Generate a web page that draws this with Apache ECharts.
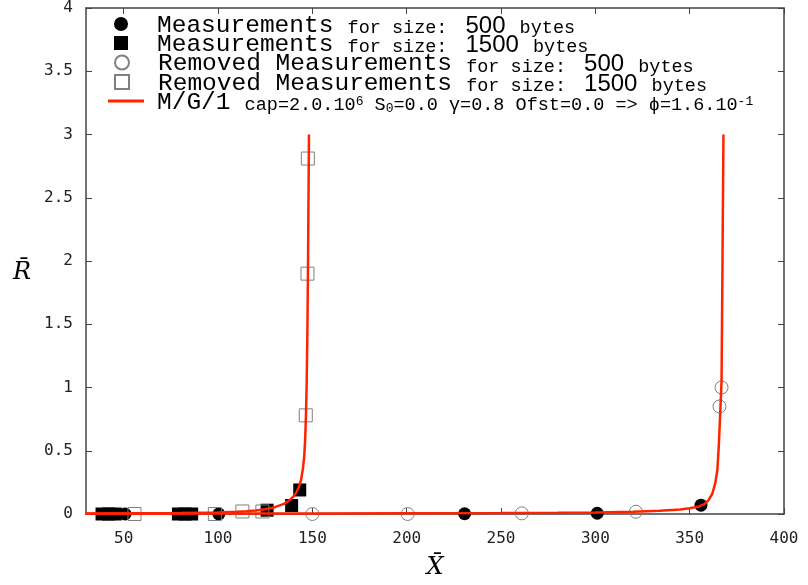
<!DOCTYPE html>
<html>
<head>
<meta charset="utf-8">
<script src="https://cdn.jsdelivr.net/npm/echarts@6/dist/echarts.min.js"></script>
<style>html,body{margin:0;padding:0;background:#fff}#c{width:808px;height:585px}</style>
</head>
<body>
<div id="c"></div>
<script>
const xTickValues = [50, 100, 150, 200, 250, 300, 350, 400];
const yTickLabels = ['0', '0.5', '1', '1.5', '2', '2.5', '3', '3.5', '4'];

const meas500 = [[50.7, 0], [100.4, 0], [230.7, 0.002], [301, 0.006], [356, 0.07]];
const meas1500 = [[38.5, 0], [42, 0], [45.5, 0], [79, 0], [82.5, 0], [86, 0], [126, 0.03], [139, 0.067], [143.3, 0.19]];
const removed500 = [[150, 0], [200.5, 0], [261, 0.005], [321.5, 0.018], [365.8, 0.85], [366.9, 1.0]];
const removed1500 = [[55.7, 0], [98.3, 0], [112.9, 0.02], [123.5, 0.02], [146.5, 0.78], [147.4, 1.9], [147.6, 2.81]];

const curve1500 = [[30, 0.004], [60, 0.006], [80, 0.008], [100, 0.012], [110, 0.017], [115, 0.021], [120, 0.028], [125, 0.038], [130, 0.054], [135, 0.08], [138, 0.11], [140, 0.14], [141.5, 0.17], [143, 0.22], [144, 0.27], [145, 0.36], [145.7, 0.46], [146.2, 0.6], [146.6, 0.78], [147, 1.05], [147.4, 1.5], [147.7, 2.0], [148, 2.6], [148.2, 3.0]];
const curve500 = [[30, 0.002], [100, 0.003], [150, 0.004], [200, 0.005], [250, 0.007], [280, 0.009], [300, 0.012], [320, 0.017], [334, 0.025], [345, 0.036], [350, 0.045], [355, 0.06], [358, 0.08], [360, 0.11], [362, 0.16], [363.5, 0.24], [364.7, 0.35], [365.5, 0.56], [366.2, 0.8], [366.9, 1.05], [367.4, 2.0], [367.9, 3.0]];

const NAME_M500 = 'Measurements for size: 500 bytes';
const NAME_M1500 = 'Measurements for size: 1500 bytes';
const NAME_R500 = 'Removed Measurements for size: 500 bytes';
const NAME_R1500 = 'Removed Measurements for size: 1500 bytes';
const NAME_MODEL = 'M/G/1 model';

const MONO = '"Liberation Mono", "DejaVu Sans Mono", monospace';
const RED = '#ff2200';
const AX = '#444';

const rich = {
  big: { fontFamily: MONO, fontSize: 24.5, lineHeight: 20, verticalAlign: 'bottom', color: '#000', padding: [0, 3, 0, 0] },
  sm: { fontFamily: MONO, fontSize: 18.5, lineHeight: 20, verticalAlign: 'bottom', color: '#000' },
  num: { fontFamily: '"Liberation Sans", Arial, sans-serif', fontSize: 24, lineHeight: 20, verticalAlign: 'bottom', color: '#000', padding: [0, 3, 0, 18] },
  sup: { fontFamily: MONO, fontSize: 13, lineHeight: 20, verticalAlign: 'top', color: '#000' },
  sub: { fontFamily: MONO, fontSize: 13, lineHeight: 20, verticalAlign: 'bottom', color: '#000' }
};

function legendText(name) {
  if (name === NAME_M500) return '{big|Measurements}{sm| for size:}{num|500}{sm| bytes}';
  if (name === NAME_M1500) return '{big|Measurements}{sm| for size:}{num|1500}{sm| bytes}';
  if (name === NAME_R500) return '{big|Removed Measurements}{sm| for size:}{num|500}{sm| bytes}';
  if (name === NAME_R1500) return '{big|Removed Measurements}{sm| for size:}{num|1500}{sm| bytes}';
  return '{big|M/G/1}{sm| cap=2.0.10}{sup|6}{sm| S}{sub|0}{sm|=0.0 γ=0.8 Ofst=0.0 => ϕ=1.6.10}{sup|-1}';
}

function oneLegend(name, centerY, opts) {
  return Object.assign({
    left: 114, top: centerY - 11, orient: 'vertical', itemWidth: 14, itemHeight: 14,
    padding: 0, selectedMode: false,
    data: [name], formatter: legendText,
    textStyle: { rich: rich, padding: [8, 0, 0, 24] }
  }, opts || {});
}

const chart = echarts.init(document.getElementById('c'), null, { renderer: 'canvas' });

const baseX = {
  type: 'value', min: 30, max: 400,
  axisLine: { show: true, onZero: false, lineStyle: { color: AX, width: 1.5 } },
  axisTick: { show: true, inside: true, length: 6, customValues: xTickValues, lineStyle: { color: AX } },
  splitLine: { show: false }
};
const baseY = {
  type: 'value', min: 0, max: 4, interval: 0.5,
  axisLine: { show: true, onZero: false, lineStyle: { color: AX, width: 1.5 } },
  axisTick: { show: true, inside: true, length: 6, lineStyle: { color: AX } },
  splitLine: { show: false }
};

chart.setOption({
  animation: false,
  backgroundColor: '#fff',
  grid: { left: 86, right: 24, top: 8, bottom: 71, containLabel: false, outerBoundsMode: 'none' },
  xAxis: [
    Object.assign({}, baseX, {
      position: 'bottom',
      name: 'X\u0304', nameLocation: 'middle', nameGap: 42,
      nameTextStyle: { fontFamily: '"DejaVu Serif", serif', fontStyle: 'italic', fontSize: 24, color: '#000' },
      axisLabel: { show: true, customValues: xTickValues, margin: 17, fontFamily: '"DejaVu Sans Mono", monospace', fontSize: 16, color: '#222' }
    }),
    Object.assign({}, baseX, { position: 'top', axisLabel: { show: false } })
  ],
  yAxis: [
    Object.assign({}, baseY, {
      position: 'left',
      name: 'R\u0304', nameLocation: 'middle', nameGap: 55, nameRotate: 0,
      nameTextStyle: { fontFamily: '"DejaVu Serif", serif', fontStyle: 'italic', fontSize: 24, color: '#000', verticalAlign: 'top' },
      axisLabel: { show: true, margin: 13, fontFamily: '"DejaVu Sans Mono", monospace', fontSize: 16, color: '#222',
        formatter: function (v) { return yTickLabels[Math.round(v * 2)]; } }
    }),
    Object.assign({}, baseY, { position: 'right', axisLabel: { show: false } })
  ],
  legend: [
    oneLegend(NAME_M500, 24),
    oneLegend(NAME_M1500, 43),
    oneLegend(NAME_R500, 62.5),
    oneLegend(NAME_R1500, 82),
    oneLegend(NAME_MODEL, 101, { left: 108, itemWidth: 36, itemHeight: 3, icon: 'rect',
      textStyle: { rich: rich, padding: [8, 0, 0, 8] } })
  ],
  series: [
    { name: NAME_M500, type: 'scatter', symbol: 'circle', symbolSize: 13, data: meas500, z: 2,
      itemStyle: { color: '#000', opacity: 1 } },
    { name: NAME_M1500, type: 'scatter', symbol: 'rect', symbolSize: 13, data: meas1500, z: 2,
      itemStyle: { color: '#000', opacity: 1 } },
    { name: NAME_R500, type: 'scatter', symbol: 'circle', symbolSize: 13, data: removed500, z: 2,
      itemStyle: { color: 'rgba(255,255,255,0)', borderColor: '#808080', borderWidth: 1, opacity: 1 } },
    { name: NAME_R1500, type: 'scatter', symbol: 'rect', symbolSize: 13, data: removed1500, z: 2,
      itemStyle: { color: 'rgba(255,255,255,0)', borderColor: '#808080', borderWidth: 1, opacity: 1 } },
    { name: NAME_MODEL, type: 'line', data: curve1500, showSymbol: false, symbol: 'none', z: 3,
      lineStyle: { color: RED, width: 2.5 }, itemStyle: { color: RED } },
    { name: NAME_MODEL, type: 'line', data: curve500, showSymbol: false, symbol: 'none', z: 3,
      lineStyle: { color: RED, width: 2.5 }, itemStyle: { color: RED } }
  ]
});
</script>
</body>
</html>
